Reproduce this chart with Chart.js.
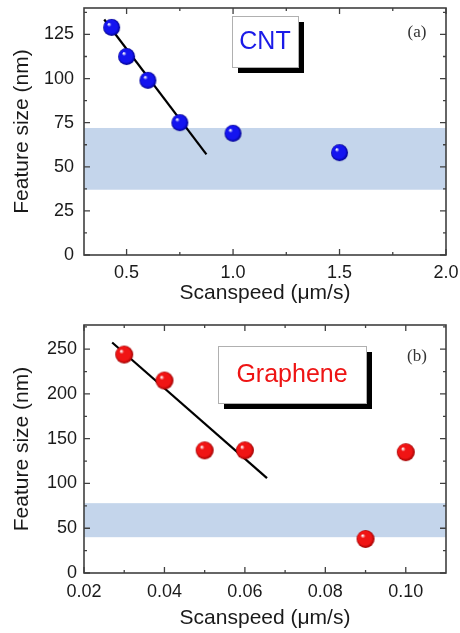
<!DOCTYPE html>
<html>
<head>
<meta charset="utf-8">
<script src="https://cdn.jsdelivr.net/npm/chart.js@4"></script>
<style>
  body { margin: 0; background: #fff; }
  canvas { display: block; }
</style>
</head>
<body>
<canvas id="cntChart" width="460" height="310"></canvas>
<canvas id="grChart" width="460" height="323"></canvas>
<script>
// (a) CNT
const cntSpeed = [0.43, 0.5, 0.6, 0.75, 1.0, 1.5];
const cntSize = [129, 112.5, 99, 75, 69, 58];
const cntFitSpeed = [0.395, 0.875];
const cntFitSize = [133.5, 57];
const cntBand = [37, 72];
const cntXTicks = [0.5, 1.0, 1.5, 2.0];
const cntYTicks = [0, 25, 50, 75, 100, 125];

// (b) Graphene
const grSpeed = [0.03, 0.04, 0.05, 0.06, 0.09, 0.10];
const grSize = [244, 215, 137, 137, 38, 135];
const grFitSpeed = [0.027, 0.0655];
const grFitSize = [257.5, 106];
const grBand = [40, 78];
const grXTicks = [0.02, 0.04, 0.06, 0.08, 0.10];
const grYTicks = [0, 50, 100, 150, 200, 250];

const FONT = "'Liberation Sans', Arial, sans-serif";
const TXT = "#1a1a1a";

// shaded ball used as point style
function ball(r, base, dark) {
  const c = document.createElement("canvas");
  c.width = c.height = Math.ceil(r * 2 + 2);
  const g = c.getContext("2d");
  const cx = c.width / 2, cy = c.height / 2;
  const grad = g.createRadialGradient(cx - r * 0.35, cy - r * 0.4, r * 0.05, cx, cy, r);
  grad.addColorStop(0, "#ffffff");
  grad.addColorStop(0.22, base);
  grad.addColorStop(0.75, base);
  grad.addColorStop(1, dark);
  g.fillStyle = grad;
  g.beginPath();
  g.arc(cx, cy, r, 0, Math.PI * 2);
  g.fill();
  return c;
}

function minorsOf(major, min, max) {
  const step = major[1] - major[0];
  const out = [];
  [major[0] - step].concat(major).forEach(v => {
    const m = v + step / 2;
    if (m > min + 1e-9 && m < max - 1e-9) out.push(m);
  });
  return out;
}

const decor = {
  id: "decor",
  beforeDatasetsDraw(chart, args, o) {
    const { ctx, chartArea: a, scales: { y } } = chart;
    const t = y.getPixelForValue(o.band[1]);
    const b = y.getPixelForValue(o.band[0]);
    ctx.save();
    ctx.fillStyle = "#c4d5eb";
    ctx.fillRect(a.left, t, a.right - a.left, b - t);
    ctx.restore();
  },
  afterDatasetsDraw(chart, args, o) {
    const { ctx, chartArea: a, scales: { x, y } } = chart;
    ctx.save();
    // frame
    ctx.strokeStyle = "#404040";
    ctx.lineWidth = 1.6;
    ctx.strokeRect(a.left, a.top, a.right - a.left, a.bottom - a.top);
    // inward ticks on all four sides
    ctx.lineWidth = 1.3;
    const tick = (vals, len) => {
      vals.forEach(v => {
        const px = x.getPixelForValue(v);
        ctx.beginPath();
        ctx.moveTo(px, a.bottom); ctx.lineTo(px, a.bottom - len);
        ctx.moveTo(px, a.top); ctx.lineTo(px, a.top + len);
        ctx.stroke();
      });
    };
    const tickY = (vals, len) => {
      vals.forEach(v => {
        const py = y.getPixelForValue(v);
        ctx.beginPath();
        ctx.moveTo(a.left, py); ctx.lineTo(a.left + len, py);
        ctx.moveTo(a.right, py); ctx.lineTo(a.right - len, py);
        ctx.stroke();
      });
    };
    tick(o.xTicks, 6);
    tick(minorsOf(o.xTicks, x.min, x.max), 3);
    tickY(o.yTicks, 6);
    tickY(minorsOf(o.yTicks, y.min, y.max), 3);

    // legend box with shadow
    const bx = o.box;
    ctx.fillStyle = "#000";
    ctx.fillRect(bx.x + 6, bx.y + 6, bx.w, bx.h);
    ctx.fillStyle = "#fff";
    ctx.fillRect(bx.x, bx.y, bx.w, bx.h);
    ctx.strokeStyle = "#b0b0b0";
    ctx.lineWidth = 1;
    ctx.strokeRect(bx.x + 0.5, bx.y + 0.5, bx.w, bx.h);
    ctx.fillStyle = o.textColor;
    ctx.font = "25px " + FONT;
    ctx.textAlign = "center";
    ctx.textBaseline = "middle";
    ctx.fillText(o.text, bx.x + bx.w / 2, bx.y + bx.h / 2 + 1);

    // panel label
    ctx.fillStyle = "#333";
    ctx.font = "17px 'Liberation Serif', 'Times New Roman', serif";
    ctx.fillText(o.panel, o.panelX, o.panelY);
    ctx.restore();
  }
};

function makeChart(id, cfg) {
  const cols = cfg.ballColors;
  return new Chart(document.getElementById(id), {
    type: "scatter",
    data: {
      datasets: [
        {
          data: cfg.fitX.map((v, i) => ({ x: v, y: cfg.fitY[i] })),
          showLine: true,
          borderColor: "#000",
          borderWidth: 2.2,
          pointRadius: 0,
          order: 2
        },
        {
          data: cfg.xs.map((v, i) => ({ x: v, y: cfg.ys[i] })),
          pointStyle: ball(cfg.r, cols[0], cols[1]),
          order: 1
        }
      ]
    },
    plugins: [decor],
    options: {
      responsive: false,
      animation: false,
      layout: { padding: { left: 0, right: 14, top: cfg.top, bottom: 0 } },
      scales: {
        x: {
          type: "linear",
          min: cfg.xMin,
          max: cfg.xMax,
          grid: { display: false, drawTicks: false },
          border: { display: false },
          ticks: {
            color: TXT,
            font: { family: FONT, size: 18 },
            padding: cfg.xTickPad,
            maxRotation: 0,
            callback: v => v.toFixed(cfg.dec)
          },
          title: {
            display: true,
            text: "Scanspeed (\u03bcm/s)",
            color: TXT,
            font: { family: FONT, size: 21 },
            padding: { top: 0, bottom: cfg.xTitlePad }
          },
          afterBuildTicks: s => { s.ticks = cfg.xTicks.map(v => ({ value: v })); },
          afterFit: s => { s.height = cfg.xH; s.paddingLeft = 0; s.paddingRight = 0; }
        },
        y: {
          type: "linear",
          min: 0,
          max: cfg.yMax,
          grid: { display: false, drawTicks: false },
          border: { display: false },
          ticks: {
            color: TXT,
            font: { family: FONT, size: 18 },
            padding: cfg.yTickPad
          },
          title: {
            display: true,
            text: "Feature size (nm)",
            color: TXT,
            font: { family: FONT, size: 21 },
            padding: { top: 10, bottom: 0 }
          },
          afterBuildTicks: s => { s.ticks = cfg.yTicks.map(v => ({ value: v })); },
          afterFit: s => { s.width = 84; s.paddingTop = 0; s.paddingBottom = 0; }
        }
      },
      plugins: {
        legend: { display: false },
        tooltip: { enabled: false },
        decor: cfg.decor
      }
    }
  });
}

makeChart("cntChart", {
  xs: cntSpeed, ys: cntSize, fitX: cntFitSpeed, fitY: cntFitSize,
  xTicks: cntXTicks, yTicks: cntYTicks, xMin: 0.3, xMax: 2.0, yMax: 140, dec: 1,
  top: 8, xH: 55, xTickPad: 7, xTitlePad: 4, yTickPad: 10, r: 8.5,
  ballColors: ["#1414f0", "#00008a"],
  decor: {
    band: cntBand, xTicks: cntXTicks, yTicks: cntYTicks,
    box: { x: 232, y: 16, w: 66, h: 51 }, text: "CNT", textColor: "#1a1ae8",
    panel: "(a)", panelX: 417, panelY: 33
  }
});

makeChart("grChart", {
  xs: grSpeed, ys: grSize, fitX: grFitSpeed, fitY: grFitSize,
  xTicks: grXTicks, yTicks: grYTicks, xMin: 0.02, xMax: 0.11, yMax: 277, dec: 2,
  top: 15, xH: 60, xTickPad: 8, xTitlePad: 2, yTickPad: 7, r: 9,
  ballColors: ["#f01414", "#9a0000"],
  decor: {
    band: grBand, xTicks: grXTicks, yTicks: grYTicks,
    box: { x: 218, y: 36, w: 148, h: 57 }, text: "Graphene", textColor: "#ee1414",
    panel: "(b)", panelX: 417, panelY: 47
  }
});
</script>
</body>
</html>
